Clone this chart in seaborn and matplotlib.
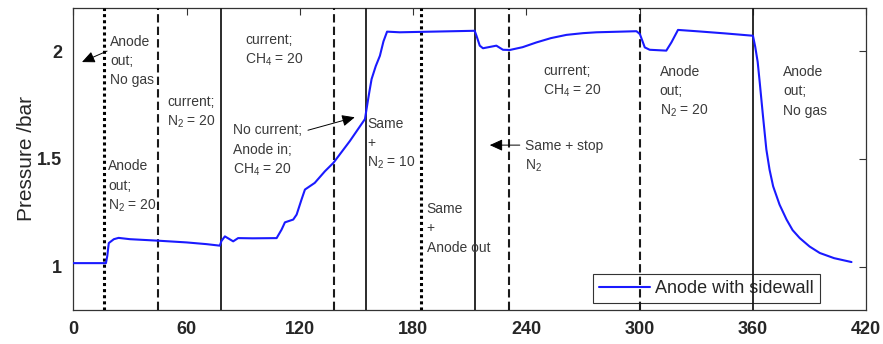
import matplotlib
matplotlib.use("Agg")
import matplotlib.pyplot as plt
import seaborn as sns
import pandas as pd

# ---------------- data ----------------
time_s = [0, 17.3, 18.0, 18.8, 21.5, 24.0, 30, 45.0, 60, 70.6,
          77.6, 78.5, 80.3, 84.7, 87.3, 95, 107.7, 110.3, 112.1, 116.5,
          118.3, 120.9, 122.7, 127.9, 133.3, 137.8, 146.5, 154.5, 155.4, 156.8,
          158.0, 160.2, 162.4, 164.3, 166.2, 172.9, 190, 212.6, 213.6, 215.3,
          217.0, 224.1, 227.6, 231.2, 238.0, 245.3, 253.0, 261.2, 270.0, 277.1,
          290.0, 298.3, 300.1, 302.7, 305.3, 314.1, 316.8, 320.3, 330.0, 345,
          360.0, 361.2, 362.5, 363.6, 365.3, 367.1, 368.8, 370.7, 374.1, 377.8,
          381.0, 384.8, 390.0, 395.4, 403.0, 412.2]
pressure_bar = [1.017, 1.017, 1.05, 1.11, 1.128, 1.134, 1.128, 1.121, 1.113, 1.105,
                1.098, 1.12, 1.141, 1.118, 1.133, 1.132, 1.133, 1.172, 1.206, 1.219,
                1.242, 1.312, 1.358, 1.389, 1.443, 1.482, 1.583, 1.685, 1.735, 1.81,
                1.87, 1.93, 1.978, 2.045, 2.09, 2.087, 2.09, 2.094, 2.07, 2.025,
                2.013, 2.025, 2.006, 2.005, 2.018, 2.04, 2.06, 2.075, 2.083, 2.087,
                2.09, 2.092, 2.079, 2.017, 2.006, 2.002, 2.04, 2.098, 2.092, 2.082,
                2.071, 2.02, 1.95, 1.854, 1.70, 1.544, 1.45, 1.373, 1.288, 1.219,
                1.17, 1.133, 1.094, 1.064, 1.04, 1.022]
series_name = "Anode with sidewall"

events_solid = [78, 155, 213, 360]
events_dashed = [45, 138, 231, 300]
events_dotted = [16.4, 184]

x_ticks = [0, 60, 120, 180, 240, 300, 360, 420]
y_ticks = [1, 1.5, 2]
y_tick_labels = ["1", "1.5", "2"]

# annotation blocks: (x, baseline of first line, lines)
notes = [
    (19.4, 2.025, ["Anode", "out;", "No gas"]),
    (18.5, 1.447, ["Anode", "out;", r"N$_2$ = 20"]),
    (49.7, 1.746, ["current;", r"N$_2$ = 20"]),
    (90.9, 2.033, ["current;", r"CH$_4$ = 20"]),
    (84.7, 1.614, ["No current;", "Anode in;", r"CH$_4$ = 20"]),
    (155.8, 1.645, ["Same", "+", r"N$_2$ = 10"]),
    (187.1, 1.250, ["Same", "+", "Anode out"]),
    (239.1, 1.541, ["Same + stop", r"N$_2$"]),
    (248.8, 1.888, ["current;", r"CH$_4$ = 20"]),
    (310.6, 1.885, ["Anode", "out;", r"N$_2$ = 20"]),
    (375.9, 1.885, ["Anode", "out;", "No gas"]),
]
# arrows: (tail x, tail y, head x, head y)
arrows = [
    (17.9, 2.000, 4.6, 1.949),
    (124.3, 1.633, 149.1, 1.693),
    (236.5, 1.564, 220.6, 1.564),
]

# ---------------- style ----------------
sns.set_style("white")
plt.rcParams["font.family"] = ["Liberation Sans", "DejaVu Sans"]
plt.rcParams["mathtext.default"] = "regular"
plt.rcParams["mathtext.fontset"] = "custom"
plt.rcParams["mathtext.rm"] = "Liberation Sans"

df = pd.DataFrame({"Time": time_s, "Pressure": pressure_bar, "Series": series_name})

fig = plt.figure(figsize=(8.83, 3.44), dpi=100)
ax = fig.add_axes([0.083, 0.099, 0.898, 0.878])

line_col = "#1a1a1a"
for xv in events_solid:
    ax.axvline(xv, color=line_col, lw=1.3, ls="-", zorder=3)
for xv in events_dashed:
    ax.axvline(xv, color=line_col, lw=1.5, ls=(0, (4, 2)), zorder=3)
for xv in events_dotted:
    ax.axvline(xv, color="black", lw=2.2, ls=(0, (1, 1)), zorder=3)

sns.lineplot(data=df, x="Time", y="Pressure", hue="Series", palette=["#1a1aff"],
             lw=1.5, ax=ax, zorder=4, estimator=None, sort=False)

txt_col = "#3a3a3a"
pitch = 0.09
for x0, y0, lines in notes:
    for i, s in enumerate(lines):
        ax.text(x0, y0 - i * pitch, s, fontsize=10, color=txt_col,
                ha="left", va="baseline", zorder=5)

for tx, ty, hx, hy in arrows:
    ax.annotate("", xy=(hx, hy), xytext=(tx, ty),
                arrowprops=dict(arrowstyle="-|>,head_length=0.55,head_width=0.25",
                                color="black", lw=0.7, mutation_scale=14,
                                shrinkA=0, shrinkB=0), zorder=5)

ax.set_xlim(0, 420)
ax.set_ylim(0.8, 2.2)
ax.set_xticks(x_ticks)
ax.set_xticklabels([str(v) for v in x_ticks], fontsize=13, fontweight="bold")
ax.set_yticks(y_ticks)
ax.set_yticklabels(y_tick_labels, fontsize=13, fontweight="bold")
ax.tick_params(direction="in", length=5, width=0.8, top=True, right=True,
               color="#333333", pad=8)
ax.set_xlabel("")
ax.set_ylabel("Pressure /bar", fontsize=15, labelpad=1)
for sp in ax.spines.values():
    sp.set_color("#333333")
    sp.set_linewidth(0.9)

leg = ax.legend(loc="lower left", bbox_to_anchor=(0.655, 0.022), fontsize=13,
                frameon=True, fancybox=False, framealpha=1, edgecolor="#333333",
                handlelength=2.8, borderpad=0.35, handletextpad=0.3,
                borderaxespad=0)
leg.get_frame().set_linewidth(0.8)
leg.set_zorder(1)

fig.savefig("out.png", dpi=100)
